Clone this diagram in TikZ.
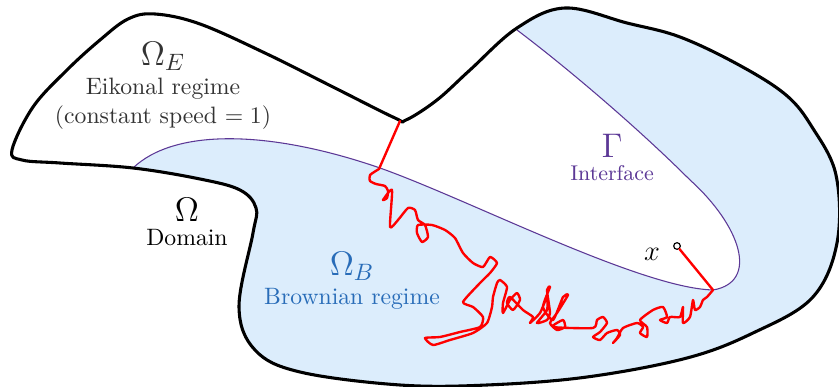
\documentclass[tikz,border=0pt]{standalone}
\usepackage{amsmath}
\usetikzlibrary{positioning}
\definecolor{bfill}{RGB}{220,237,252}
\definecolor{bblue}{RGB}{40,108,184}
\definecolor{gpurple}{RGB}{92,56,150}
\definecolor{egray}{RGB}{51,51,51}

\begin{document}
\begin{tikzpicture}[x=0.422pt,y=-0.422pt,
  bdry/.style={draw=black,line width=1.3pt,line join=round},
  iface/.style={draw=gpurple,line width=0.45pt},
  walk/.style={draw=red,line width=1pt,line join=round,line cap=round},
  big/.style={font=\Large,inner sep=1pt},
  lab/.style={font=\normalsize,align=center,inner sep=1pt}]
\useasboundingbox (0,0) rectangle (839,387);
\def\domain{plot[smooth cycle,tension=0.6] coordinates {(12,150) (33,107) (67,70) (100,40) (128,19) (155,14)
  (200,24) (267,54) (333,87) (395,118) (406,120) (437,100) (470,70) (517,28) (565,8) (627,23) (680,37)
  (739,65) (786,95) (812,127) (836,175) (837,243) (812,298) (753,333) (687,358) (587,377) (487,385)
  (400,385) (300,372) (255,350) (239,307) (253,233) (256,208) (240,190) (200,179) (133,168) (60,163)
  (22,160)}}
\def\gammapts{(133,168) .. controls (175,128) and (270,130) .. (380,168)
  .. controls (470,200) and (640,288) .. (713,290) .. controls (760,282) and (740,225) .. (690,180)
  .. controls (640,130) and (570,70) .. (517,30)}
% Brownian part blue, eikonal part white
\fill[bfill] \domain;
\begin{scope}
  \clip \domain;
  \fill[white] \gammapts -- (517,-40) -- (-40,-40) -- (-40,190) -- (110,190) -- cycle;
\end{scope}
\draw[iface] \gammapts;
\draw[bdry] \domain;

\coordinate (exitB) at (400,121);
\coordinate (hitE) at (379,169);
\coordinate (hitX) at (713,290);
\node[circle,draw=black,fill=white,line width=0.5pt,inner sep=0pt,minimum size=2.8pt] (xpt) at (677,246) {};
\draw[walk] (exitB) -- plot[smooth,tension=0.35] coordinates {(hitE) (370,175) (370,181) (376,184) (385,186)
  (388,191) (387,198) (383,200) (392,190) (390,227) (398,220) (408,208) (415,210) (418,220) (425,225) (428,237)
  (422,242) (417,233) (418,225) (432,225) (445,230) (455,238) (463,253) (473,263) (483,267) (490,257) (497,263)
  (490,273) (480,283) (463,302) (473,307) (483,317) (480,327) (460,332) (440,337) (425,338) (433,345) (450,340)
  (473,333) (487,323) (492,307) (493,297) (497,283) (500,280) (507,287) (503,303) (503,313) (510,300) (517,293)
  (520,300) (513,310) (507,303) (510,297) (523,310) (533,317) (530,323) (540,313) (547,297) (547,310) (537,323)
  (547,320) (550,313) (547,290) (550,287) (543,307) (553,320) (563,297) (568,295) (557,313) (550,323) (557,330)
  (565,327) (563,320) (553,327) (593,328) (597,320) (603,317) (607,323) (600,332) (593,337) (600,340) (607,333)
  (617,330) (620,335) (613,343) (617,338) (623,328) (637,323) (643,327) (640,333) (647,337) (647,327) (640,320)
  (653,310) (663,307) (667,317) (660,320) (667,323) (670,317) (680,317) (683,307) (683,323) (690,317) (693,300)
  (695,310) (700,307) (703,300) (707,297) (hitX)} -- (xpt);

\node[big,text=egray] (omE) at (163,56) {$\Omega_E$};
\node[lab,text=egray,below=1pt of omE] (eik) {Eikonal regime\\(constant speed $=1$)};
\node[big] (om) at (187,210) {$\Omega$};
\node[lab,below=1pt of om] (dom) {Domain};
\node[big,text=bblue] (omB) at (352,266) {$\Omega_B$};
\node[lab,text=bblue,below=1pt of omB] (brw) {Brownian regime};
\node[big,text=gpurple] (gam) at (612,146) {$\Gamma$};
\node[lab,font=\small,text=gpurple,below=1pt of gam] (ifc) {Interface};
\node[font=\large,inner sep=1pt] (xlab) at (652,254) {$x$};
\end{tikzpicture}
\end{document}
